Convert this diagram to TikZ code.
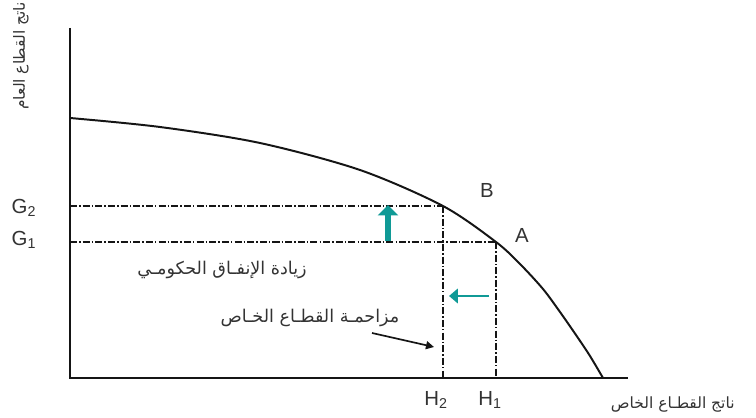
\documentclass[tikz,border=0pt]{standalone}
\usepackage{fontspec}
\setmainfont{Liberation Sans}
\newfontfamily\arabicfont[Script=Arabic]{DejaVu Sans}
\TeXXeTstate=1
\usetikzlibrary{positioning, arrows.meta, calc}
\definecolor{ppteal}{HTML}{109A96}
\definecolor{ppink}{HTML}{151515}
\definecolor{ppgray}{HTML}{333333}

\begin{document}
\begin{tikzpicture}[
    x=0.025cm, y=-0.025cm,
    % ---- shared styles ---------------------------------------------------
    axis/.style={draw=ppink, line width=2pt},
    ppf/.style={draw=ppink, line width=1.4pt, line join=round},
    guide/.style={draw=ppink, line width=1pt,
                  dash pattern=on 5pt off 1.5pt on 1pt off 1.5pt},
    guidebold/.style={guide, line width=1.8pt},
    lift/.style={draw=ppteal, line width=3.6pt,
                 -{Triangle[length=2.6mm, width=5mm]}},
    shove/.style={draw=ppteal, line width=2pt,
                  -{Triangle[length=2.2mm, width=3.6mm]}},
    hint/.style={draw=ppink, line width=1.2pt,
                 -{Triangle[length=2mm, width=2mm]}},
    ptlbl/.style={font=\fontsize{14.5}{16}\selectfont, text=ppgray, inner sep=0pt},
    ar/.style={font=\arabicfont\fontsize{11}{13}\selectfont, text=ppgray},
    arbig/.style={ar, font=\arabicfont\fontsize{12.5}{14}\selectfont},
  ]
\useasboundingbox (0,0) rectangle (756,418);

% =========================================================================
% AXES
% =========================================================================
\coordinate (O)    at (70,378);
\coordinate (ytop) at (70,28);
\coordinate (xend) at (628,378);
\draw[axis] (ytop) -- (O) -- (xend);

\node[ar, rotate=90, inner sep=0pt] (ylab) at (21,56) {\beginR ناتج القطاع العام\endR};
\node[ar, anchor=west] (xlab) at (606,405) {\beginR ناتج القطـاع الخاص\endR};

% =========================================================================
% THE FRONTIER
% =========================================================================
\coordinate (ptB) at (443,206);
\coordinate (ptA) at (496,242);
\draw[ppf] plot[smooth, tension=0.5] coordinates {
  (70,118) (160,127) (260,143) (360,170) (ptB) (ptA)
  (520,264) (543,289) (560,312) (576,335) (590,356) (603,378)};

\node[ptlbl] (B) at (487,190) {B};
\node[ptlbl] (A) at (522,235) {A};

% guide lines to the axes
\coordinate (g2) at (O|-ptB);
\coordinate (g1) at (O|-ptA);
\coordinate (h2) at (O-|ptB);
\coordinate (h1) at (O-|ptA);
\draw[guide] (g2) -- (ptB);
\draw[guide] (g1) -- (ptA);
\draw[guide] (ptB) -- (h2);
\draw[guidebold] (ptA) -- (h1);

\node[ptlbl] (G2) at (24,208) {G\textsubscript{2}};
\node[ptlbl] (G1) at (24,240) {G\textsubscript{1}};
\node[ptlbl] (H2) at (436,400) {H\textsubscript{2}};
\node[ptlbl] (H1) at (490,400) {H\textsubscript{1}};

% =========================================================================
% SHIFTS
% =========================================================================
\coordinate (upfrom) at (388,241);
\coordinate (upto)   at (388,205);
\draw[lift] (upfrom) -- (upto);

\coordinate (lfrom) at (489,296);
\coordinate (lto)   at (449,296);
\draw[shove] (lfrom) -- (lto);

\node[arbig] (spend) at (222,270) {\beginR زيادة الإنفـاق الحكومـي\endR};
\node[arbig] (crowd) at (310,318) {\beginR مزاحمـة القطـاع الخـاص\endR};

\coordinate (tip) at (434,347);
\draw[hint] (372,333) -- (tip);

\end{tikzpicture}
\end{document}
